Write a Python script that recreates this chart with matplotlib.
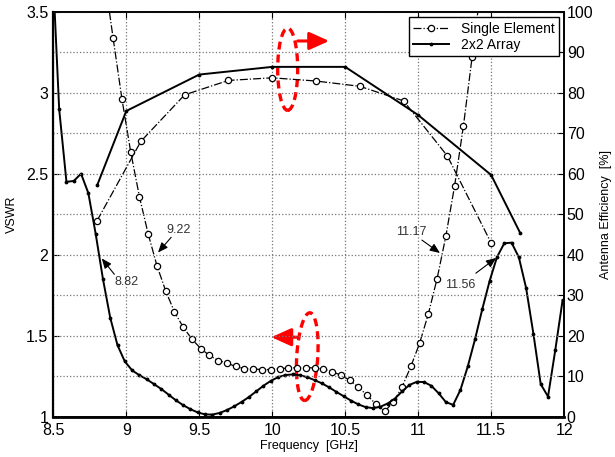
import numpy as np
import matplotlib.pyplot as plt
from matplotlib.patches import Ellipse

plt.rcParams['font.family'] = ['Liberation Sans', 'DejaVu Sans']

# VSWR - single element (every 0.06 GHz)
f_se = [8.85, 8.91, 8.97, 9.03, 9.09, 9.15, 9.21, 9.27, 9.33, 9.39, 9.45, 9.51,
        9.57, 9.63, 9.69, 9.75, 9.81, 9.87, 9.93, 9.99, 10.05, 10.11, 10.17, 10.23,
        10.29, 10.35, 10.41, 10.47, 10.53, 10.59, 10.65, 10.71, 10.77, 10.83, 10.89,
        10.95, 11.01, 11.07, 11.13, 11.19, 11.25, 11.31, 11.37, 11.43]
vswr_se = [3.72, 3.336, 2.963, 2.636, 2.358, 2.128, 1.932, 1.776, 1.646, 1.552, 1.478, 1.42,
           1.377, 1.346, 1.33, 1.309, 1.296, 1.294, 1.29, 1.29, 1.296, 1.299, 1.302, 1.302,
           1.30, 1.293, 1.278, 1.255, 1.225, 1.181, 1.132, 1.077, 1.031, 1.089, 1.183,
           1.309, 1.453, 1.634, 1.852, 2.115, 2.426, 2.793, 3.222, 3.65]

# VSWR - 2x2 array (every 0.05 GHz)
f_arr = [8.49, 8.54, 8.59, 8.64, 8.69, 8.74, 8.79, 8.84, 8.89, 8.94, 8.99, 9.04,
         9.09, 9.14, 9.19, 9.24, 9.29, 9.34, 9.39, 9.44, 9.49, 9.54, 9.59, 9.64,
         9.69, 9.74, 9.79, 9.84, 9.89, 9.94, 9.99, 10.04, 10.09, 10.14, 10.19, 10.24,
         10.29, 10.34, 10.39, 10.44, 10.49, 10.54, 10.59, 10.64, 10.69, 10.74, 10.79,
         10.84, 10.89, 10.94, 10.99, 11.04, 11.09, 11.14, 11.19, 11.24, 11.29, 11.34,
         11.39, 11.44, 11.49, 11.54, 11.59, 11.64, 11.69, 11.74, 11.79, 11.84, 11.89,
         11.94, 11.99]
vswr_arr = [3.88, 2.90, 2.45, 2.455, 2.50, 2.38, 2.13, 1.85, 1.61, 1.44, 1.34, 1.285,
            1.255, 1.23, 1.20, 1.17, 1.135, 1.10, 1.07, 1.045, 1.025, 1.013, 1.012, 1.022,
            1.04, 1.063, 1.09, 1.12, 1.155, 1.19, 1.22, 1.243, 1.256, 1.26, 1.255, 1.243,
            1.225, 1.205, 1.18, 1.152, 1.125, 1.098, 1.075, 1.058, 1.052, 1.06, 1.08,
            1.11, 1.155, 1.195, 1.214, 1.213, 1.19, 1.144, 1.089, 1.072, 1.165, 1.309,
            1.478, 1.665, 1.838, 1.984, 2.07, 2.074, 1.984, 1.793, 1.51, 1.2, 1.123,
            1.412, 1.72]

# antenna efficiency [%]
f_eff_se = [8.8, 9.1, 9.4, 9.7, 10.0, 10.3, 10.6, 10.9, 11.2, 11.5]
eff_se = [48.4, 68.0, 79.5, 83.05, 83.7, 82.9, 81.6, 78.0, 64.4, 42.9]
f_eff_arr = [8.8, 9.0, 9.5, 10.0, 10.5, 11.0, 11.5, 11.7]
eff_arr = [57.1, 75.5, 84.5, 86.4, 86.4, 74.5, 59.7, 45.3]

# -10 dB band edges (VSWR = 2)
marks = [8.82, 9.22, 11.17, 11.56]

fig = plt.figure(figsize=(6.15, 4.57), dpi=100)
ax = fig.add_axes([0.0867, 0.0886, 0.8305, 0.8855])
ax2 = ax.twinx()

l1, = ax.plot(f_se, vswr_se, '-.o', color='k', lw=0.9, ms=4.5, mfc='white', mec='k', mew=0.9)
l2, = ax.plot(f_arr, vswr_arr, '-', color='k', lw=1.4, marker='.', ms=3.5)
ax2.plot(f_eff_se, eff_se, '-.o', color='k', lw=0.9, ms=4.5, mfc='white', mec='k', mew=0.9)
ax2.plot(f_eff_arr, eff_arr, '-', color='k', lw=1.4, marker='.', ms=3.5)

ax.set_xlim(8.5, 12)
ax.set_ylim(1, 3.5)
ax2.set_ylim(0, 100)
ax.set_xticks(np.arange(8.5, 12.01, 0.5))
ax.set_xticklabels(['8.5', '9', '9.5', '10', '10.5', '11', '11.5', '12'])
ax.set_yticks(np.arange(1, 3.51, 0.5))
ax.set_yticklabels(['1', '1.5', '2', '2.5', '3', '3.5'])
ax2.set_yticks(np.arange(0, 101, 10))

ax.tick_params(direction='in', labelsize=11.5, top=True, length=4)
ax.tick_params(axis='x', pad=5)
ax2.tick_params(direction='in', labelsize=11.5, length=4, pad=2)
ax.grid(True, axis='x', ls=':', color='#777777', lw=0.9)
ax2.grid(True, axis='y', ls=':', color='#777777', lw=0.9)
for a in (ax, ax2):
    for s in a.spines.values():
        s.set_linewidth(1.2)
ax.spines['bottom'].set_linewidth(2)
ax.spines['left'].set_linewidth(1.6)

ax.set_xlabel('Frequency  [GHz]', fontsize=9, labelpad=1)
ax.set_ylabel('VSWR', fontsize=9, labelpad=6)
ax2.set_ylabel('Antenna Efficiency  [%]', fontsize=9, labelpad=5)

# band edge annotations
ann = [(8.82, 1.99, 8.93, 1.865, 9.0, 1.83),
       (9.205, 2.0, 9.32, 2.12, 9.355, 2.15),
       (11.165, 2.0, 11.01, 2.10, 10.95, 2.14),
       (11.55, 1.99, 11.38, 1.875, 11.29, 1.81)]
for m, (xt, yt, xs, ys, xl, yl) in zip(marks, ann):
    ax.annotate('', xy=(xt, yt), xytext=(xs, ys),
                arrowprops=dict(arrowstyle='-|>,head_length=0.6,head_width=0.25',
                                color='k', lw=0.8, mutation_scale=10))
    ax.text(xl, yl, '%.2f' % m, fontsize=9, color='#333333', ha='center', va='center')

# red markers pointing to the axes
red_dash = (0, (2.4, 1.5))
ax2.add_patch(Ellipse((10.106, 85.8), 0.137, 20.3, fill=False, ec='red', lw=2.4, ls=red_dash))
ax2.annotate('', xy=(10.39, 92.8), xytext=(10.175, 92.8),
             arrowprops=dict(arrowstyle='-|>,head_length=1.0,head_width=0.45',
                             color='red', lw=2.2, mutation_scale=12, shrinkA=0, shrinkB=0))
ax.add_patch(Ellipse((10.24, 1.37), 0.144, 0.543, angle=-4, fill=False, ec='red', lw=2.4, ls=red_dash))
ax.annotate('', xy=(9.994, 1.49), xytext=(10.168, 1.49),
            arrowprops=dict(arrowstyle='-|>,head_length=1.0,head_width=0.45',
                            color='red', lw=2.2, mutation_scale=12, shrinkA=0, shrinkB=0))

leg = ax2.legend([l1, l2], ['Single Element', '2x2 Array'], loc='upper right',
                 fontsize=10, fancybox=False, edgecolor='k', framealpha=1,
                 borderaxespad=0.4, handlelength=2.6, borderpad=0.3, labelspacing=0.15)
leg.get_frame().set_linewidth(1.0)

fig.savefig('out.png', dpi=100)
